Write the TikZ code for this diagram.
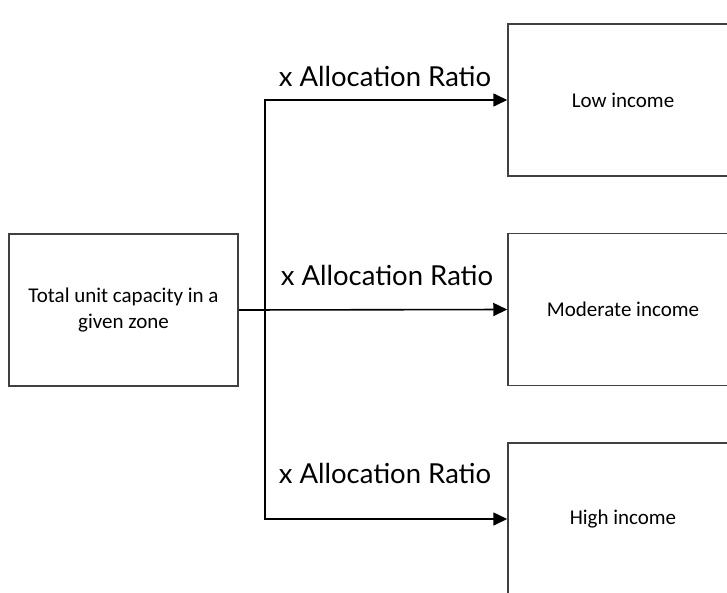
\documentclass[tikz,border=0pt]{standalone}
\usepackage{fontspec}
\setmainfont{Carlito}
\newfontfamily\labelfont{Lato}
\usetikzlibrary{arrows.meta}
\begin{document}
\begin{tikzpicture}
[x=1pt,y=-1pt,
box/.style={draw=black!75,line width=1.5pt,fill=white,inner sep=0pt,minimum height=152pt,align=center,font=\fontsize{21}{26}\selectfont},
ratio/.style={font=\labelfont\fontsize{27.5}{30}\selectfont},
towards/.style={-{Triangle[length=14pt,width=13pt]},line width=1.6pt}]
\useasboundingbox (0,0) rectangle (727,592);
\clip (0,0) rectangle (727,592);
\node[box,minimum width=229pt] (total) at (123.5,310) {Total unit capacity in a\\ given zone};
\node[box,minimum width=260pt] (low) at (638,100) {\hspace*{-30pt}Low income};
\node[box,minimum width=260pt] (moderate) at (638,309.5) {\hspace*{-30pt}Moderate income};
\node[box,minimum width=260pt] (high) at (638,519) {\hspace*{-30pt}High income};
\coordinate (split) at (265,310);

\draw [towards] (total.east) -- (moderate.west);
\draw [towards] (split) |- (low.west);
\draw [towards] (split) |- (high.west);

\node[ratio] (r1) at (385,76) {x Allocation Ratio};
\node[ratio] (r2) at (387,275) {x Allocation Ratio};
\node[ratio] (r3) at (385,473) {x Allocation Ratio};
\end{tikzpicture}
\end{document}
